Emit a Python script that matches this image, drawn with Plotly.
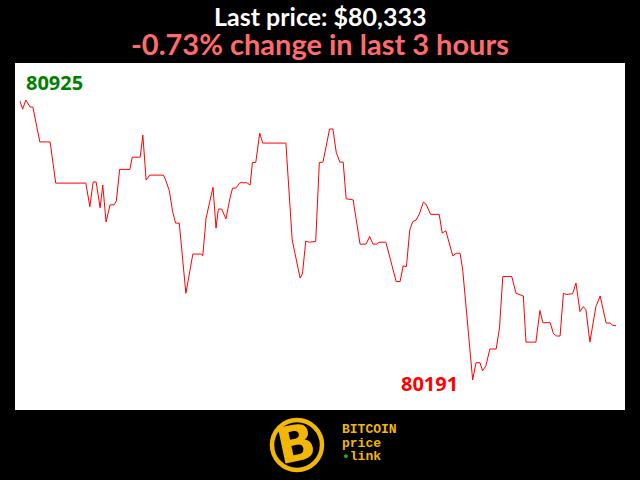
import plotly.graph_objects as go

# time in minutes over the last 3 hours, price in USD
minutes = [0.3, 1.1, 2.1, 3.3, 4.2, 6.3, 9.4, 11.1, 20.2, 21.4, 22.4, 23.3, 24.5, 25.3, 26.3, 27.5, 28.7, 29.4,
           30.4, 33.5, 34.2, 36.6, 37.4, 38.4, 39.5, 43.6, 44.3, 45.4, 46.4, 47.3, 48.4, 50.4, 52.5, 55.1, 55.5,
           56.5, 57.6, 58.6, 59.5, 60.2, 61.2, 62.5, 63.7, 64.5, 65.5, 66.7, 68.8, 69.8, 70.5, 71.5, 72.7, 73.6,
           80.6, 81.5, 82.5, 84.9, 85.6, 86.6, 87.7, 89.6, 90.7, 91.8, 92.8, 93.8, 94.8, 95.8, 96.9, 97.9, 98.8,
           100.9, 103.0, 104.8, 105.9, 106.9, 108.0, 108.8, 110.8, 113.9, 115.1, 116.0, 117.0, 118.0, 118.9,
           119.9, 120.9, 122.1, 122.9, 124.3, 126.9, 127.8, 128.9, 131.0, 132.0, 133.2, 134.0, 137.0, 138.0,
           139.2, 140.0, 141.0, 142.2, 144.1, 145.1, 146.1, 148.8, 150.1, 152.3, 153.1, 156.1, 157.3, 158.2,
           160.4, 161.4, 162.4, 163.4, 164.4, 165.4, 167.2, 168.2, 169.4, 170.4, 171.2, 172.4, 174.2, 175.5,
           176.5, 177.3, 178.5, 179.3, 180.3]
prices = [80922, 80901, 80925, 80907, 80906, 80815, 80815, 80707, 80707, 80645, 80710, 80710, 80642, 80702,
          80605, 80650, 80650, 80660, 80743, 80743, 80775, 80775, 80833, 80715, 80728, 80728, 80715, 80687,
          80632, 80602, 80602, 80418, 80521, 80521, 80516, 80615, 80658, 80696, 80589, 80639, 80639, 80613,
          80667, 80694, 80694, 80708, 80708, 80702, 80761, 80761, 80838, 80812, 80812, 80698, 80558, 80458,
          80469, 80555, 80552, 80554, 80761, 80762, 80810, 80849, 80849, 80788, 80762, 80762, 80666, 80663,
          80547, 80547, 80567, 80547, 80547, 80552, 80552, 80449, 80449, 80490, 80488, 80584, 80606, 80610,
          80626, 80657, 80652, 80625, 80625, 80576, 80582, 80516, 80523, 80523, 80479, 80191, 80236, 80236,
          80215, 80228, 80272, 80272, 80327, 80462, 80462, 80418, 80411, 80290, 80290, 80373, 80341, 80341,
          80312, 80306, 80306, 80418, 80415, 80417, 80445, 80370, 80383, 80375, 80290, 80383, 80411, 80366,
          80340, 80340, 80334, 80333]

title_text = "Last price: $80,333"
subtitle_text = "-0.73% change in last 3 hours"
max_price = max(prices)
min_price = min(prices)
t_max = minutes[prices.index(max_price)]
t_min = minutes[prices.index(min_price)]

fig = go.Figure()
fig.add_trace(go.Scatter(x=minutes, y=prices, mode="lines",
                         line=dict(color="#ff0000", width=1), hoverinfo="skip"))

fig.update_layout(
    width=640, height=480,
    margin=dict(l=15, r=15, t=63, b=70),
    paper_bgcolor="#000000", plot_bgcolor="#ffffff",
    showlegend=False,
    xaxis=dict(range=[-1.2, 183.0], showgrid=False, zeroline=False, showticklabels=False, ticks=""),
    yaxis=dict(range=[80112, 81022], showgrid=False, zeroline=False, showticklabels=False, ticks=""),
)

# Titles
fig.add_annotation(text=title_text, xref="paper", yref="paper", x=0.5, y=1, yshift=47,
                   showarrow=False, xanchor="center", yanchor="middle",
                   font=dict(family="Lato", size=25, color="#ffffff", weight="bold"))
fig.add_annotation(text=subtitle_text, xref="paper", yref="paper", x=0.5, y=1, yshift=20,
                   showarrow=False, xanchor="center", yanchor="middle",
                   font=dict(family="Lato", size=29, color="#ff6b6b", weight="bold"))

# Max / min labels
fig.add_annotation(text=str(max_price), x=t_max, y=max_price, xanchor="left", yanchor="middle",
                   xshift=-2, yshift=17, showarrow=False,
                   font=dict(family="Open Sans", size=20, color="#008000", weight="bold"))
fig.add_annotation(text=str(min_price), x=t_min, y=min_price, xanchor="right", yanchor="middle",
                   xshift=-13, yshift=-4, showarrow=False,
                   font=dict(family="Open Sans", size=20, color="#ff0000", weight="bold"))

# Logo
gold = "#f2b705"
logo_x = 0.4623
logo_y = -0.1009
fig.add_shape(type="circle", xref="paper", yref="paper", xsizemode="pixel", ysizemode="pixel",
              xanchor=logo_x, yanchor=logo_y, x0=-25, x1=25, y0=-25, y1=25,
              line=dict(color=gold, width=4.5), fillcolor="#000000")
fig.add_annotation(text="B", xref="paper", yref="paper", x=logo_x, y=logo_y, showarrow=False,
                   xanchor="center", yanchor="middle", textangle=-12, xshift=-1, yshift=1,
                   font=dict(family="DejaVu Sans", size=50, color=gold, weight="bold"))
fig.add_annotation(
    text=("<span style='font-size:13px'>BITCOIN</span><br>"
          "<span style='font-size:13px'>price</span><br>"
          "<span style='font-size:13px'><span style='color:#22aa22'>•</span>link</span>"),
    xref="paper", yref="paper", x=0.5344, y=-0.0951, xshift=-1, showarrow=False, align="left",
    xanchor="left", yanchor="middle",
    font=dict(family="Liberation Mono", size=10.5, color=gold, weight="bold"))

fig.write_html("out.html", config={"displayModeBar": False},
               post_script="document.body.style.margin='0';")
